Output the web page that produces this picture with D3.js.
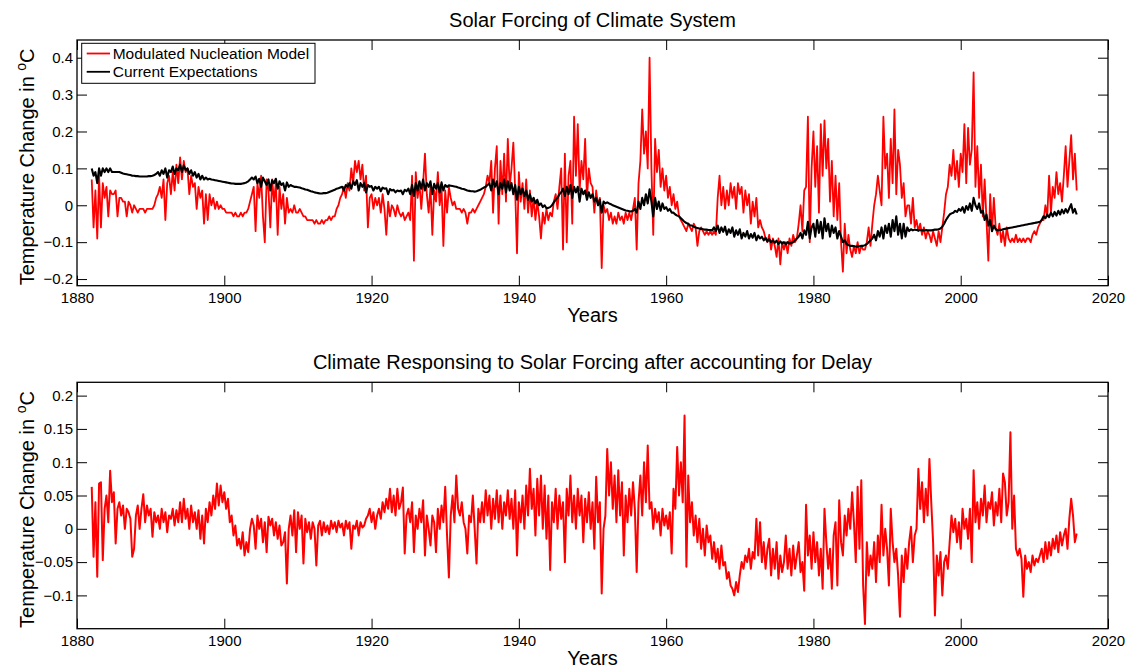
<!DOCTYPE html>
<html>
<head>
<meta charset="utf-8">
<script src="https://cdn.jsdelivr.net/npm/d3@7"></script>
<style>
  html, body { margin: 0; padding: 0; background: #fff; }
  svg { display: block; font-family: "Liberation Sans", Arial, Helvetica, sans-serif; }
</style>
</head>
<body>
<svg id="chart" width="1129" height="669"></svg>
<script>
// Quarterly samples, first sample at 1882.0
const startYear = 1882;
const samplesPerYear = 4;

// Modulated nucleation model (°C)
const nucleationModel = [
  .07,-.06,.04,-.09, .08,-.06,.06,.02, .05,-.03,.04,.03, .03,.04,-.03,.02,            // 1882
  .02,.01,.01,-.03, .01,.00,-.02,.00, -.01,-.02,-.01,-.01, -.01,-.02,-.01,-.01,        // 1886
  -.01,-.01,.00,.02, .03,.05,.02,.07, -.04,.06,.08,.03, .09,.04,.11,.06,               // 1890
  .13,.07,.12,.09, .10,.03,.08,.05, .06,-.01,.05,.02, .04,-.05,.03,-.04,               // 1894
  .03,.00,.02,-.01, .01,-.01,.00,-.01, -.01,-.02,-.02,-.02, -.02,-.03,-.02,-.03,       // 1898
  -.03,-.02,-.03,-.02, -.02,-.01,.01,.03, .05,-.07,.06,.02, .08,-.03,-.10,.07,         // 1902
  .04,-.06,.07,.01, .06,-.08,.05,-.01, .03,-.05,.02,-.02, -.01,-.02,.00,-.02,          // 1906
  -.02,-.01,-.02,-.03, -.03,-.04,-.04,-.04, -.04,-.05,-.04,-.05, -.05,-.04,-.05,-.04,  // 1910
  -.04,-.03,-.04,-.03, -.03,-.01,.00,.02, .03,.05,.02,.06, .04,.10,.06,.12,            // 1914
  .09,.12,.07,.11, .04,.08,-.06,.02, .03,-.01,.02,.00, .02,-.02,.03,-.01,              // 1918
  -.08,.01,-.03,.00, -.01,-.03,.00,-.02, -.03,-.02,-.04,-.03, -.02,-.04,.08,-.15,      // 1922
  .09,.02,.06,-.01, .06,.14,.03,-.02, .05,-.08,.04,.01, .09,.00,.05,-.11,              // 1926
  .04,-.02,.05,.02, .00,.01,-.01,-.01, -.01,-.02,-.01,-.02, -.05,-.02,-.02,-.01,       // 1930
  -.02,-.01,.00,.01, .02,.03,.05,.08, .06,.12,-.02,.10, .16,-.05,.12,.03,              // 1934
  .14,.01,.18,.05, .10,.17,.04,-.13, .09,.01,.06,-.01, .07,-.02,.04,-.03,              // 1938
  .02,-.04,.01,-.03, -.09,-.02,-.05,-.01, -.04,-.02,-.03,.01, .03,-.01,.05,.10,        // 1942
  -.12,.14,-.10,.08, .12,-.05,.24,.08, .22,.04,.12,.07, .18,.02,.10,.06,               // 1946
  .05,-.02,.04,.00, .02,-.17,.00,-.02, -.01,-.04,-.02,-.05, -.03,-.05,-.02,-.04,       // 1950
  -.03,-.05,-.02,-.04, -.02,-.04,-.01,.02, -.12,.06,.12,.26, .14,.20,.10,.40,          // 1954
  .10,-.08,.18,.09, .15,.05,.10,.04, .08,.02,.05,.00, .03,-.01,.01,-.03,               // 1958
  -.04,-.05,-.06,-.07, -.05,-.06,-.07,-.05, -.06,-.11,-.07,-.06, -.07,-.08,-.07,-.08,  // 1962
  -.07,-.08,-.07,-.08, .02,.08,.00,.05, -.01,.04,.00,.06, .02,.05,-.01,.06,            // 1966
  .03,.05,-.02,.04, .00,.03,-.05,.01, -.03,.02,-.06,-.04, -.06,-.07,-.09,-.10,         // 1970
  -.08,-.12,-.09,-.11, -.14,-.09,-.16,-.10, -.12,-.10,-.13,-.09, -.11,-.08,-.10,-.09,  // 1974
  -.05,.00,-.07,.04, .05,.24,-.10,.10, .20,.05,.16,-.02, .22,.08,.23,.10,              // 1978
  .18,.01,.12,-.03, .08,-.04,.06,-.10, -.18,-.05,-.13,-.08, -.12,-.14,-.11,-.13,       // 1982
  -.10,-.13,-.11,-.12, -.12,-.10,-.06,-.11, -.05,.00,.03,.08, .04,.00,.24,.10,         // 1986
  .14,.02,.18,.06, .26,.03,.15,.11, .02,.06,-.03,.00, .00,-.05,.02,-.06,               // 1990
  -.04,-.07,-.05,-.08, -.06,-.09,-.07,-.08, -.10,-.07,-.09,-.11, -.07,-.10,-.06,-.02,  // 1994
  .03,.05,.11,.08, .15,.07,.12,.05, .14,.09,.22,.06, .21,.11,.15,.36,                  // 1998
  .05,.16,.02,.11, -.03,.07,-.04,-.15, .03,-.07,.02,-.06, -.08,-.05,-.10,-.07,         // 2002
  -.11,-.06,-.09,-.10, -.09,-.10,-.08,-.10, -.09,-.10,-.09,-.10, -.09,-.09,-.10,-.08,  // 2006
  -.07,-.08,-.06,-.05, -.04,-.04,.00,-.03, .08,-.02,.05,.02, .09,.03,.06,.01,          // 2010
  .08,.16,.05,.12, .19,.07,.14,.04                                                     // 2014
];

// Conventional expectation (°C)
const currentExpectations = [
  .100,.080,.090,.060, .100,.080,.100,.090, .100,.090,.100,.090, .090,.090,.090,.090,            // 1882
  .088,.086,.085,.084, .083,.082,.080,.080, .079,.079,.078,.078, .078,.078,.078,.079,            // 1886
  .079,.080,.082,.085, .090,.080,.095,.085, .100,.075,.095,.090, .105,.085,.100,.095,            // 1890
  .110,.090,.108,.095, .100,.085,.095,.080, .090,.075,.085,.070, .080,.070,.075,.070,            // 1894
  .072,.070,.069,.068, .067,.066,.065,.064, .063,.062,.061,.060, .059,.059,.058,.058,            // 1898
  .058,.058,.059,.060, .062,.065,.070,.075, .070,.078,.060,.072, .050,.075,.065,.055,            // 1902
  .070,.040,.068,.060, .072,.045,.065,.055, .060,.040,.062,.050, .055,.052,.050,.050,            // 1906
  .049,.048,.046,.045, .043,.042,.040,.038, .037,.035,.034,.033, .032,.032,.033,.033,            // 1910
  .034,.036,.038,.040, .042,.045,.046,.048, .050,.040,.055,.050, .060,.045,.065,.055,            // 1914
  .068,.040,.060,.050, .060,.035,.055,.050, .052,.040,.050,.045, .050,.038,.048,.045,            // 1918
  .046,.030,.044,.040, .042,.035,.040,.038, .040,.030,.042,.038, .045,.030,.055,.025,            // 1922
  .060,.040,.065,.045, .070,.040,.060,.050, .065,.030,.058,.045, .060,.035,.062,.040,            // 1926
  .055,.050,.054,.053, .052,.051,.050,.048, .047,.045,.044,.042, .040,.039,.038,.038,            // 1930
  .037,.038,.040,.042, .045,.048,.050,.055, .060,.040,.070,.050, .065,.030,.060,.045,            // 1934
  .070,.035,.065,.040, .060,.030,.055,.015, .050,.030,.045,.025, .040,.015,.030,.010,            // 1938
  .020,.005,.015,.000, .005,-.005,.000,-.008, -.007,-.005,.000,.008, .015,.020,.030,.035,        // 1942
  .045,.025,.050,.030, .055,.020,.050,.035, .050,.010,.045,.030, .040,.015,.035,.020,            // 1946
  .030,.010,.020,.000, .015,-.020,.010,.005, .008,.005,.003,.000, -.002,-.004,-.006,-.008,       // 1950
  -.010,-.012,-.014,-.015, -.016,-.017,-.015,-.010, -.020,.010,-.010,.020, .000,.030,.005,.043,  // 1954
  .010,-.030,.020,-.010, .010,-.015,.005,-.010, -.005,-.015,-.010,-.020, -.020,-.025,-.028,-.030, // 1958
  -.035,-.040,-.045,-.048, -.050,-.055,-.055,-.058, -.060,-.062,-.063,-.064, -.065,-.066,-.066,-.067, // 1962
  -.067,-.068,-.060,-.070, -.055,-.075,-.060,-.072, -.058,-.080,-.065,-.075, -.060,-.085,-.068,-.080, // 1966
  -.065,-.090,-.075,-.085, -.070,-.090,-.078,-.088, -.075,-.095,-.082,-.090, -.085,-.095,-.088,-.098, // 1970
  -.092,-.100,-.095,-.102, -.096,-.105,-.098,-.104, -.100,-.106,-.100,-.104, -.102,-.100,-.095,-.090, // 1974
  -.085,-.075,-.090,-.068, -.080,-.045,-.090,-.060, -.050,-.085,-.040,-.075, -.045,-.090,-.035,-.070, // 1978
  -.050,-.085,-.055,-.075, -.060,-.090,-.070,-.085, -.100,-.095,-.105,-.108, -.110,-.110,-.111,-.112, // 1982
  -.112,-.111,-.110,-.110, -.108,-.105,-.100,-.095, -.090,-.080,-.095,-.070, -.085,-.060,-.090,-.055, // 1986
  -.075,-.050,-.085,-.040, -.070,-.030,-.080,-.050, -.090,-.050,-.085,-.060, -.070,-.065,-.068,-.066, // 1990
  -.067,-.068,-.067,-.068, -.068,-.067,-.068,-.068, -.068,-.067,-.066,-.066, -.065,-.063,-.058,-.050, // 1994
  -.040,-.032,-.025,-.022, -.020,-.015,-.018,-.010, -.015,-.005,-.020,-.002, -.012,.005,-.015,.020,   // 1998
  .000,-.010,.005,-.020, -.015,-.040,-.025,-.055, -.040,-.070,-.055,-.065, -.068,-.066,-.067,-.065,   // 2002
  -.064,-.063,-.062,-.061, -.060,-.059,-.058,-.057, -.056,-.055,-.054,-.053, -.052,-.051,-.050,-.049, // 2006
  -.048,-.047,-.046,-.045, -.040,-.030,-.035,-.025, -.032,-.020,-.030,-.018, -.028,-.015,-.025,-.012, // 2010
  -.022,-.010,-.020,-.008, .003,-.020,-.010,-.025                                                     // 2014
];

// Climate response after the delay is removed (°C)
const delayedResponse = [
  .063,-.042,.040,-.072, .068,.070,-.047,.030, .050,.010,.087,.040, .055,-.022,.030,.040,        // 1882
  .020,.035,.000,.030, .025,.015,-.042,-.030, .020,.035,.000,.030, .052,.010,.035,.020,          // 1886
  .030,-.012,.025,.010, .020,.000,.030,.010, .025,-.005,.020,.015, .030,.005,.028,.010,          // 1890
  .040,.010,.045,.015, .030,.000,.035,.010, .025,.000,.028,-.015, .020,-.022,.030,.010,          // 1894
  .040,.020,.050,.030, .068,.035,.065,.040, .055,.030,.045,.010, .020,-.010,.005,-.025,          // 1898
  -.015,-.030,-.005,-.040, -.020,-.035,.000,.015, .005,-.030,.020,.000, .015,-.020,.010,-.035,   // 1902
  .018,.005,.015,-.010, .010,-.015,.005,-.025, -.020,-.005,-.082,.000, .020,-.010,.028,-.035,    // 1906
  .025,.000,.020,-.052, .015,-.005,.010,-.015, .010,.000,-.055,.005, .012,-.010,.010,-.005,      // 1910
  .005,-.008,.012,.000, .010,-.005,.012,.002, .008,-.010,.012,.000, .010,-.030,.005,.000,        // 1914
  .012,-.010,.010,.002, .005,.015,.020,.030, .010,.025,.000,.020, .030,.015,.040,.025,           // 1918
  .045,.030,.060,.025, .050,.020,.060,.030, .040,.062,-.037,.020, .030,.010,.040,-.035,          // 1922
  .020,.000,.030,.010, .043,-.040,.020,.000, -.025,.020,.010,-.035, .030,.000,.035,.010,         // 1926
  .063,-.010,-.073,.020, .050,.010,.080,.030, .020,.040,.010,.000, -.037,.020,.010,.050,         // 1930
  .000,-.052,.030,.010, .040,.010,.058,.020, .050,.000,.045,.015, .058,.010,.050,.000,           // 1934
  .040,.020,.058,.015, .045,.000,.058,-.040, .040,.010,.050,.000, .065,.020,.090,.030,           // 1938
  .060,-.010,.075,.020, .080,.000,.065,-.015, .050,-.062,.040,.010, .060,.000,.050,.015,         // 1942
  .040,-.050,.060,.020, .080,.010,.050,.000, .060,.020,.050,-.020, .045,.010,.055,.000,          // 1946
  .040,-.030,.078,.010, .040,-.097,.000,.020, .120,.050,.100,.030, .080,.010,.088,.020,          // 1950
  .070,-.040,.050,.010, .060,.020,.070,.030, -.065,.040,.080,.020, .100,.040,.125,.030,          // 1954
  .040,.000,.030,.010, .025,-.010,.030,.005, .020,.000,.025,-.037, .060,.030,.123,.050,          // 1958
  .100,.040,.170,-.057, .080,.010,.040,-.010, .020,-.020,.015,-.030, .000,-.040,.005,-.020,      // 1962
  -.010,-.045,-.020,-.050, -.030,-.060,-.025,-.055, -.050,-.075,-.065,-.085, -.090,-.100,-.080,-.095, // 1966
  -.070,-.050,-.060,-.040, -.050,-.030,-.060,-.035, -.045,.015,-.040,.010, -.050,-.020,-.060,-.030,   // 1970
  -.015,-.070,-.030,-.060, -.020,-.075,-.040,-.065, -.050,-.010,-.060,-.030, -.070,-.025,-.060,-.040, // 1974
  -.020,-.065,-.050,-.093, .036,-.040,-.010,-.060, -.005,-.050,-.020,-.070, -.030,-.090,.030,-.020,   // 1978
  -.060,-.030,-.090,-.010, .010,-.085,.043,-.020, -.040,.020,-.010,.030, .000,.055,.010,-.050,        // 1982
  .063,-.030,.073,-.085, -.143,-.020,-.070,-.040, -.060,-.020,-.080,-.010, -.050,.036,-.040,.000,     // 1986
  -.030,-.085,.030,-.020, -.050,-.030,-.070,-.132, -.040,-.080,-.030,-.060, -.020,.003,-.050,-.010,   // 1990
  .000,.090,.030,.070, .010,.060,.020,.105, .040,-.020,-.130,-.040, -.070,-.035,-.100,-.050,          // 1994
  -.040,-.060,-.020,.020, -.005,.015,-.020,.010, -.030,.030,.000,.015, -.015,.030,-.050,.088,         // 1998
  .010,.040,.000,.045, .020,.065,.010,.040, .030,.055,.005,.040, .020,.060,.010,.083,                 // 2002
  .070,.020,.040,.145, .000,.050,-.030,-.040, -.030,-.045,-.102,-.040, -.060,-.050,-.065,-.040,       // 2006
  -.055,-.045,-.050,-.040, -.030,-.050,-.020,-.045, -.020,-.040,-.015,-.030, -.010,-.035,-.005,-.025, // 2010
  -.010,.000,-.030,.015, .045,.020,-.020,-.007                                                        // 2014
];

// Tick values and text
const yearTicks = [1880, 1900, 1920, 1940, 1960, 1980, 2000, 2020];
const forcingTicks = [-0.2, -0.1, 0, 0.1, 0.2, 0.3, 0.4];
const responseTicks = [-0.1, -0.05, 0, 0.05, 0.1, 0.15, 0.2];
const titles = ["Solar Forcing of Climate System",
                "Climate Responsing to Solar Forcing after accounting for Delay"];
const legendLabels = ["Modulated Nucleation Model", "Current Expectations"];
const xLabel = "Years";

const svg = d3.select("#chart");
const left = 77, right = 1108;
const x = d3.scaleLinear().domain([1880, 2020]).range([left, right]);

const timeOf = i => startYear + i / samplesPerYear;

const panels = [
  { top: 40, bottom: 285.7, domain: [-0.218, 0.448], ticks: forcingTicks, title: titles[0],
    series: [ { values: nucleationModel, color: "#ff0000", width: 1.8 },
              { values: currentExpectations, color: "#000000", width: 2.1 } ] },
  { top: 382.3, bottom: 628.7, domain: [-0.15, 0.22], ticks: responseTicks, title: titles[1],
    series: [ { values: delayedResponse, color: "#ff0000", width: 2 } ] }
];

const fmt = d3.format("~g");

panels.forEach((p, k) => {
  const y = d3.scaleLinear().domain(p.domain).range([p.bottom, p.top]);
  const g = svg.append("g");

  g.append("clipPath").attr("id", "clip" + k)
    .append("rect").attr("x", left).attr("y", p.top)
    .attr("width", right - left).attr("height", p.bottom - p.top);

  // data lines
  const line = d3.line().x((d, i) => x(timeOf(i))).y(d => y(d));
  p.series.forEach(s => {
    g.append("path").datum(s.values)
      .attr("clip-path", `url(#clip${k})`)
      .attr("fill", "none").attr("stroke", s.color)
      .attr("stroke-width", s.width).attr("stroke-linejoin", "round")
      .attr("d", line);
  });

  // axes with inward ticks on all four sides
  const styleAxis = sel => {
    sel.select(".domain").remove();
    sel.selectAll(".tick line").attr("stroke", "#000").attr("stroke-width", 1);
    sel.selectAll("text").attr("fill", "#000").style("font-size", "15px")
      .style("font-family", '"Liberation Sans", Arial, Helvetica, sans-serif');
  };
  g.append("g").attr("transform", `translate(0,${p.bottom})`)
    .call(d3.axisBottom(x).tickValues(yearTicks).tickFormat(d3.format("d"))
      .tickSizeInner(-10).tickSizeOuter(0).tickPadding(7)).call(styleAxis);
  g.append("g").attr("transform", `translate(0,${p.top})`)
    .call(d3.axisTop(x).tickValues(yearTicks).tickFormat("")
      .tickSizeInner(-10).tickSizeOuter(0)).call(styleAxis);
  g.append("g").attr("transform", `translate(${left},0)`)
    .call(d3.axisLeft(y).tickValues(p.ticks).tickFormat(fmt)
      .tickSizeInner(-10).tickSizeOuter(0).tickPadding(4)).call(styleAxis);
  g.append("g").attr("transform", `translate(${right},0)`)
    .call(d3.axisRight(y).tickValues(p.ticks).tickFormat("")
      .tickSizeInner(-10).tickSizeOuter(0)).call(styleAxis);

  // frame
  g.append("rect").attr("x", left).attr("y", p.top)
    .attr("width", right - left).attr("height", p.bottom - p.top)
    .attr("fill", "none").attr("stroke", "#000").attr("stroke-width", 1.3);

  // title
  g.append("text").attr("x", (left + right) / 2).attr("y", p.top - 13)
    .attr("text-anchor", "middle").style("font-size", "20px").attr("fill", "#000")
    .text(p.title);

  // x label
  g.append("text").attr("x", (left + right) / 2).attr("y", p.bottom + 36)
    .attr("text-anchor", "middle").style("font-size", "20px").attr("fill", "#000")
    .text(xLabel);

  // y label with superscript degree mark
  const cy = (p.top + p.bottom) / 2 + 4;
  const yl = g.append("text")
    .attr("transform", `translate(34,${cy}) rotate(-90)`)
    .attr("text-anchor", "middle").style("font-size", "20px").attr("fill", "#000");
  yl.append("tspan").text("Temperature Change in ");
  yl.append("tspan").attr("dy", -8).style("font-size", "14px").text("o");
  yl.append("tspan").attr("dy", 8).text("C");

  // legend on the upper panel
  if (k === 0) {
    const lg = g.append("g");
    lg.append("rect").attr("x", 81.7).attr("y", 43.3).attr("width", 233.3).attr("height", 40)
      .attr("fill", "#fff").attr("stroke", "#000").attr("stroke-width", 1);
    p.series.forEach((s, j) => {
      const ly = 53.5 + j * 18.3;
      lg.append("line").attr("x1", 86.7).attr("x2", 110).attr("y1", ly).attr("y2", ly)
        .attr("stroke", s.color).attr("stroke-width", 1.8);
      lg.append("text").attr("x", 112.7).attr("y", ly + 5.3)
        .style("font-size", "15.5px").attr("fill", "#000").text(legendLabels[j]);
    });
  }
});
</script>
</body>
</html>
